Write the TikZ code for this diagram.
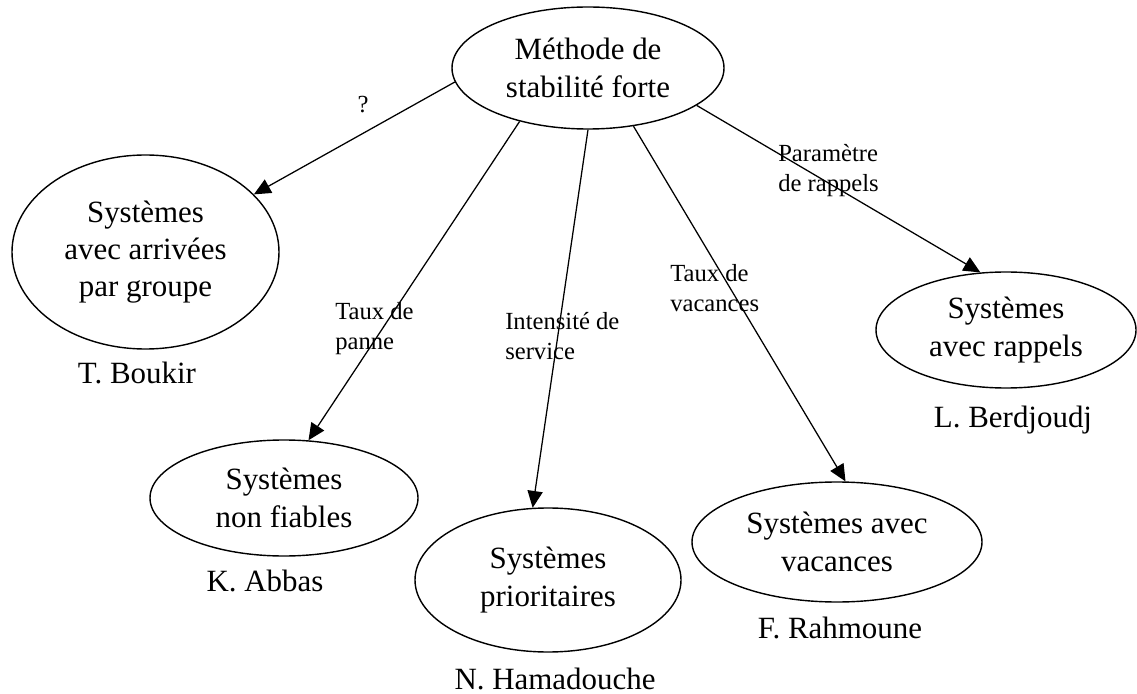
\documentclass[tikz,border=0pt]{standalone}
\usepackage{fontspec}
\setmainfont{Liberation Serif}
\usepackage{tikz}
\usetikzlibrary{shapes.geometric, arrows.meta}
\tikzset{>={Triangle[length=4.2mm,width=3.8mm]}}
\def\px{0.025cm}
\newcommand\bubblefont{\fontsize{22}{26.5}\selectfont}
\newcommand\linkfont{\fontsize{17.5}{21.3}\selectfont}
\tikzset{
  bubble/.style={ellipse, draw, line width=1pt, inner sep=0pt, align=center, font=\bubblefont},
  who/.style={font=\bubblefont, inner sep=0pt},
  why/.style={font=\linkfont, align=left, anchor=north west, inner sep=0pt},
  link/.style={->, line width=0.9pt}
}

\begin{document}
\begin{tikzpicture}[x=\px, y=-\px]
    \useasboundingbox (0,0) rectangle (1137,694);

    % ellipses
    \node[bubble, minimum width=272*\px, minimum height=122*\px] (methode) at (588,68) {Méthode de\\stabilité forte};
    \node[bubble, minimum width=267*\px, minimum height=194*\px] (groupe) at (145.5,252) {Systèmes\\avec arrivées\\par groupe};
    \node[bubble, minimum width=268*\px, minimum height=116*\px] (fiables) at (284,498) {Systèmes\\non fiables};
    \node[bubble, minimum width=266*\px, minimum height=144*\px] (prio) at (548,580) {Systèmes\\prioritaires};
    \node[bubble, minimum width=290*\px, minimum height=120*\px] (vacances) at (837,542) {Systèmes avec\\vacances};
    \node[bubble, minimum width=260*\px, minimum height=116*\px] (rappels) at (1006,330) {Systèmes\\avec rappels};

    % names
    \node[who] (boukir) at (137,373) {T. Boukir};
    \node[who] (abbas) at (265,581) {K. Abbas};
    \node[who] (hamadouche) at (555,679) {N. Hamadouche};
    \node[who] (rahmoune) at (840,628) {F. Rahmoune};
    \node[who] (berdjoudj) at (1013,420) {L. Berdjoudj};

    % arrows
    \draw[link] (methode.186) -- (groupe.28);
    \draw[link] (methode.218) -- (fiables.67);
    \draw[link] (methode.270) -- (prio.102);
    \draw[link] (methode.308) -- (vacances.82);
    \draw[link] (methode.341) -- (rappels.114);

    % labels
    \node[font=\linkfont, inner sep=0pt] (q) at (363,105) {?};
    \node[why] (panne) at (335,302) {Taux de\\panne};
    \node[why] (service) at (505,312) {Intensité de\\service};
    \node[why] (vac) at (670,264) {Taux de\\vacances};
    \node[why] (param) at (778,144) {Paramètre\\de rappels};

\end{tikzpicture}
\end{document}
